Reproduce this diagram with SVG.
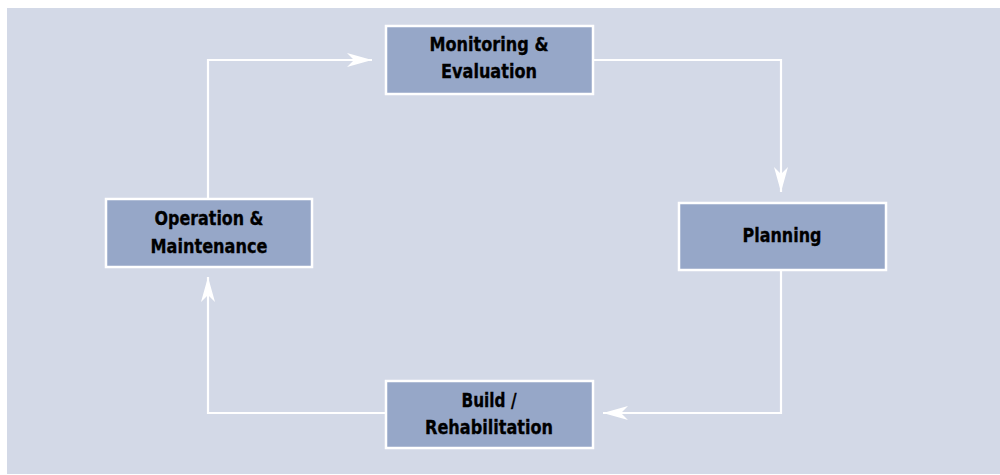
<svg xmlns="http://www.w3.org/2000/svg" width="1000" height="475" viewBox="0 0 1000 475">
<style>
.box{fill:#96A7C8;stroke:#FFFFFF;stroke-width:2.5}
.lbl{font-family:"DejaVu Sans Condensed","DejaVu Sans","Liberation Sans",sans-serif;font-stretch:condensed;font-weight:bold;font-size:20px;fill:#000000;stroke:#000000;stroke-width:0.3;text-anchor:middle}
.conn{fill:none;stroke:#FFFFFF;stroke-width:2.2}
</style>
<defs>
<marker id="arr" viewBox="-25 -7 25 14" refX="0" refY="0" markerWidth="25" markerHeight="14" markerUnits="userSpaceOnUse" orient="auto">
<path d="M0,0 L-25,-7 L-18,0 L-25,7 Z" fill="#FFFFFF"/>
</marker>
</defs>
<rect x="0" y="0" width="1000" height="475" fill="#FFFFFF"/>
<rect x="7" y="8" width="993" height="466" fill="#D3D9E7"/>
<g id="connectors">
<path class="conn" d="M208,198 V60 H372" marker-end="url(#arr)"/>
<path class="conn" d="M593,60 H781 V192" marker-end="url(#arr)"/>
<path class="conn" d="M781,270 V413 H603" marker-end="url(#arr)"/>
<path class="conn" d="M385,413 H208 V277" marker-end="url(#arr)"/>
</g>
<g id="monitoring">
<rect class="box" x="386" y="26" width="207" height="68"/>
<text class="lbl" x="489" y="51" textLength="119" lengthAdjust="spacingAndGlyphs">Monitoring &amp;</text>
<text class="lbl" x="489" y="78" textLength="96" lengthAdjust="spacingAndGlyphs">Evaluation</text>
</g>
<g id="planning">
<rect class="box" x="679" y="203" width="207" height="67"/>
<text class="lbl" x="782" y="242" textLength="79" lengthAdjust="spacingAndGlyphs">Planning</text>
</g>
<g id="build">
<rect class="box" x="386" y="381" width="207" height="67"/>
<text class="lbl" x="489" y="407" textLength="55" lengthAdjust="spacingAndGlyphs">Build /</text>
<text class="lbl" x="489" y="434" textLength="128" lengthAdjust="spacingAndGlyphs">Rehabilitation</text>
</g>
<g id="operation">
<rect class="box" x="106" y="199" width="206" height="68"/>
<text class="lbl" x="209" y="225" textLength="109" lengthAdjust="spacingAndGlyphs">Operation &amp;</text>
<text class="lbl" x="209" y="253" textLength="117" lengthAdjust="spacingAndGlyphs">Maintenance</text>
</g>
</svg>
